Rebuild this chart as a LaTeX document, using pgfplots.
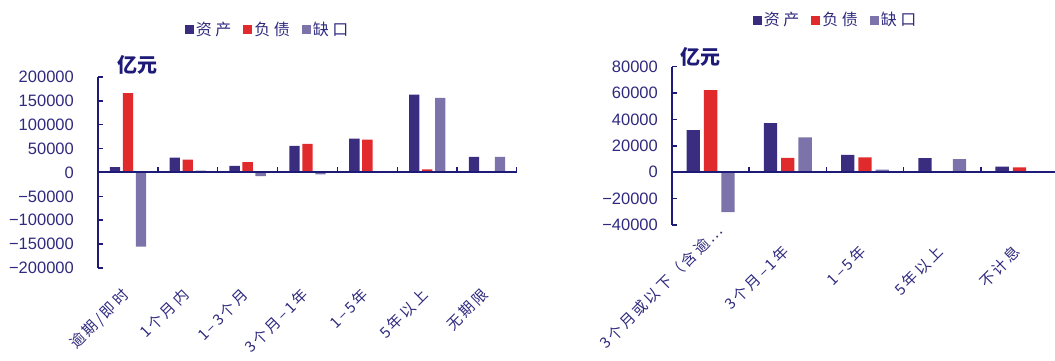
\documentclass[border=0pt]{standalone}
\usepackage{fontspec}
\setmainfont{Liberation Sans}
\newfontfamily\cjk{Noto Sans CJK SC}
\newfontfamily\cjkls{Noto Sans CJK SC}[LetterSpace=16]
\newfontfamily\cjkleg{Noto Sans CJK SC}[LetterSpace=22]
\usepackage{pgfplots}
\pgfplotsset{compat=1.18}
\definecolor{cAsset}{HTML}{3A2D80}
\definecolor{cLiab}{HTML}{E12A2C}
\definecolor{cGap}{HTML}{7B73A9}
\definecolor{navy}{HTML}{1E1A78}
\definecolor{tnavy}{HTML}{2F2A7E}
\tikzset{xlab/.style={rotate=45, anchor=north east, inner sep=0pt,
      font=\cjkls\fontsize{15}{15}\selectfont, text=tnavy}}
\pgfplotsset{
  common/.style={
    scale only axis, anchor=south west,
    axis x line*=bottom, axis y line*=left,
    x axis line style={draw=none},
    y axis line style={navy, line width=2pt},
    major x tick style={draw=none},
    ytick align=inside,
    major y tick style={navy, line width=1.5pt},
    major tick length=5pt,
    scaled y ticks=false,
    xtick={0,...,10},
    xticklabel style={yshift=-14pt, xshift=-7pt, xlab},
    yticklabel style={anchor=east, inner sep=0pt, font=\fontsize{16.5}{16.5}\selectfont, text=tnavy},
    legend style={draw=none, fill=none, legend columns=3,
      font=\cjkleg\fontsize{16}{16}\selectfont, text=tnavy,
      /tikz/every even column/.append style={column sep=10pt},
      /tikz/every odd column/.append style={column sep=0pt}},
  },
  sq/.style={legend image code/.code={\fill[##1, draw=none] (0pt,-4.5pt) rectangle (9pt,4.5pt);}},
}
\begin{document}
\begin{tikzpicture}
\path[use as bounding box] (0,0) rectangle (1055pt,361pt);
% Left chart
\begin{axis}[common, at={(98pt,93pt)}, width=419pt, height=191pt,
  xmin=-0.5, xmax=6.5, ymin=-200000, ymax=200000,
  ybar=2.7pt, bar width=10.3pt,
  ytick={-200000,-150000,-100000,-50000,0,50000,100000,150000,200000},
  yticklabels={−200000,−150000,−100000,−50000,0,50000,100000,150000,200000},
  yticklabel style={xshift=-24pt},
  xticklabels={逾期/即时,1个月内,1–3个月,3个月–1年,1–5年,5年以上,无期限},
  legend style={at={(0.405,1.251)}, anchor=center},
]
\addplot[fill=cAsset, draw=none, sq] coordinates {(0,11000) (1,31000) (2,14000) (3,56000) (4,71000) (5,163000) (6,32500)};
\addplot[fill=cLiab, draw=none, sq] coordinates {(0,166000) (1,27000) (2,21500) (3,60000) (4,69000) (5,6500) (6,0)};
\addplot[fill=cGap, draw=none, sq] coordinates {(0,-155000) (1,4000) (2,-7500) (3,-4000) (4,2000) (5,156500) (6,32500)};
\legend{资产,负债,缺口}
\draw[navy, line width=2pt] (axis cs:-0.5,0) -- (axis cs:6.5,0);
\pgfplotsinvokeforeach{0.5,1.5,2.5,3.5,4.5,5.5,6.5}{\draw[navy, line width=1.5pt] (axis cs:#1,0) -- ++(0pt,5pt);}
\end{axis}
% Right chart
\begin{axis}[common, at={(672pt,136pt)}, width=386pt, height=158.3pt,
  xmin=-0.5, xmax=4.5, ymin=-40000, ymax=80000, clip=false,
  ybar=4pt, bar width=13.3pt,
  ytick={-40000,-20000,0,20000,40000,60000,80000},
  yticklabels={−40000,−20000,0,20000,40000,60000,80000},
  yticklabel style={xshift=-14pt},
  xticklabels={,3个月–1年,1–5年,5年以上,不计息},
  legend style={at={(0.424,1.295)}, anchor=center},
]
\addplot[fill=cAsset, draw=none, sq] coordinates {(0,32000) (1,37300) (2,13200) (3,10700) (4,4300)};
\addplot[fill=cLiab, draw=none, sq] coordinates {(0,62200) (1,10900) (2,11200) (3,0) (4,3600)};
\addplot[fill=cGap, draw=none, sq] coordinates {(0,-30200) (1,26400) (2,2000) (3,10000) (4,700)};
\legend{资产,负债,缺口}
\draw[navy, line width=2pt] (axis cs:-0.5,0) -- (axis cs:4.5,0);
\pgfplotsinvokeforeach{0.5,1.5,2.5,3.5,4.5}{\draw[navy, line width=1.5pt] (axis cs:#1,0) -- ++(0pt,5pt);}
\node[xlab] at ([xshift=4pt, yshift=2pt]axis cs:0,-40000) {3个月或以下（含逾…};
\end{axis}
\node[font=\cjk\bfseries\fontsize{20}{20}\selectfont, text=navy] at (137pt,296pt) {亿元};
\node[font=\cjk\bfseries\fontsize{20}{20}\selectfont, text=navy] at (700pt,304pt) {亿元};
\end{tikzpicture}
\end{document}
